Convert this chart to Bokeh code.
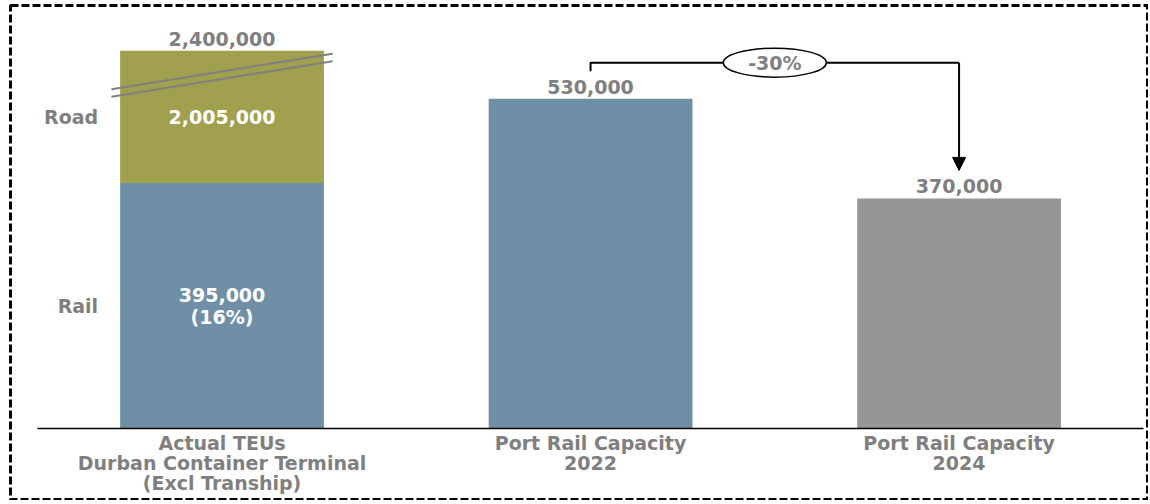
from bokeh.plotting import figure
from bokeh.models import Range1d, LinearAxis, FixedTicker, Arrow, NormalHead
from bokeh.core.properties import value
from bokeh.embed import file_html
from bokeh.resources import INLINE

# ---------------- data ----------------
categories = ["Actual TEUs\nDurban Container Terminal\n(Excl Tranship)",
              "Port Rail Capacity\n2022",
              "Port Rail Capacity\n2024"]
rail_values = [395000, 530000, 370000]
road_values = [2005000, 0, 0]
segment_names = ["Rail", "Road"]

# ---------------- style / layout ----------------
FONT = "DejaVu Sans"
GRAY_TXT = "#7F7F7F"
BLUE = "#6F8FA7"
OLIVE = "#A0A04E"
GRAY_BAR = "#969696"
bar_colors = [BLUE, BLUE, GRAY_BAR]
BAR_W = 0.553
BREAK_TOP = 607000        # displayed height of the broken (axis-break) bar
BRACKET_Y = 588000
STUB_BOTTOM = 574000
VAL_SIZE = "19px"

xs = list(range(len(categories)))
totals = [r + d for r, d in zip(rail_values, road_values)]
shown_tops = [BREAK_TOP if t > BREAK_TOP else t for t in totals]

p = figure(width=1148, height=500, output_backend="svg", toolbar_location=None,
           x_range=Range1d(-0.574, 2.514), y_range=Range1d(-114800, 679700),
           x_axis_type=None, y_axis_type=None, min_border=0,
           min_border_left=10, min_border_top=5)
p.xgrid.visible = False
p.ygrid.visible = False
p.background_fill_color = "white"
p.border_fill_color = "white"
p.outline_line_color = "black"
p.outline_line_width = 3
p.outline_line_dash = "8 3"

# category axis line drawn at y = 0
ax = LinearAxis(ticker=FixedTicker(ticks=[]), fixed_location=0, bounds=(-0.5, 2.5))
ax.major_tick_line_color = None
ax.minor_tick_line_color = None
ax.axis_line_color = "black"
ax.axis_line_width = 1.5
p.add_layout(ax, "below")

# category labels
p.text(x=xs, y=[0] * len(xs), text=categories, y_offset=3,
       text_align="center", text_baseline="top", text_font=value(FONT),
       text_font_style="bold", text_font_size="19px", text_color=GRAY_TXT,
       text_line_height=0.9)

# rail / capacity bars
p.vbar(x=xs, bottom=0, top=rail_values, width=BAR_W, fill_color=bar_colors, line_color=None)
# road segment (broken)
road_x = [x for x, d in zip(xs, road_values) if d > 0]
road_bottom = [r for r, d in zip(rail_values, road_values) if d > 0]
road_top = [t for t, d in zip(shown_tops, road_values) if d > 0]
p.vbar(x=road_x, bottom=road_bottom, top=road_top, width=BAR_W, fill_color=OLIVE, line_color=None)

# break marks
for off in (-61600, -73800):
    p.line(x=[-0.3, 0.3], y=[BREAK_TOP + off, BREAK_TOP + off + 57000],
           line_color="#808080", line_width=2)

# total labels
p.text(x=xs, y=shown_tops, text=[f"{t:,}" for t in totals], y_offset=-12,
       text_align="center", text_baseline="middle", text_font=value(FONT),
       text_font_style="bold", text_font_size=VAL_SIZE, text_color=GRAY_TXT)

# inside labels
rail_pct = round(100 * rail_values[0] / totals[0])
p.text(x=[0], y=[rail_values[0] / 2], text=[f"{rail_values[0]:,}\n({rail_pct}%)"],
       text_align="center", text_baseline="middle", text_font=value(FONT),
       text_font_style="bold", text_font_size=VAL_SIZE, text_color="white",
       text_line_height=1.0)
p.text(x=[0], y=[(rail_values[0] + BREAK_TOP) / 2], text=[f"{road_values[0]:,}"],
       text_align="center", text_baseline="middle", text_font=value(FONT),
       text_font_style="bold", text_font_size=VAL_SIZE, text_color="white")

# segment names
p.text(x=[-BAR_W / 2, -BAR_W / 2], y=[rail_values[0] / 2, (rail_values[0] + BREAK_TOP) / 2],
       text=segment_names, x_offset=-22, text_align="right", text_baseline="middle",
       text_font=value(FONT), text_font_style="bold", text_font_size="19px",
       text_color=GRAY_TXT)

# change bracket
change = round(100 * (rail_values[2] - rail_values[1]) / rail_values[1])
p.line(x=[1, 1, 2], y=[STUB_BOTTOM, BRACKET_Y, BRACKET_Y], line_color="black", line_width=2)
p.add_layout(Arrow(end=NormalHead(size=13, fill_color="black", line_color="black"),
                   x_start=2, y_start=BRACKET_Y, x_end=2, y_end=rail_values[2] + 45000,
                   line_color="black", line_width=2))
p.ellipse(x=[1.5], y=[BRACKET_Y], width=103, height=29, width_units="screen",
          height_units="screen", fill_color="white", line_color="black", line_width=1.5)
p.text(x=[1.5], y=[BRACKET_Y], text=[f"{change}%"], text_align="center",
       text_baseline="middle", text_font=value(FONT), text_font_style="bold",
       text_font_size=VAL_SIZE, text_color=GRAY_TXT)

open("out.html", "w").write(file_html(p, INLINE))
